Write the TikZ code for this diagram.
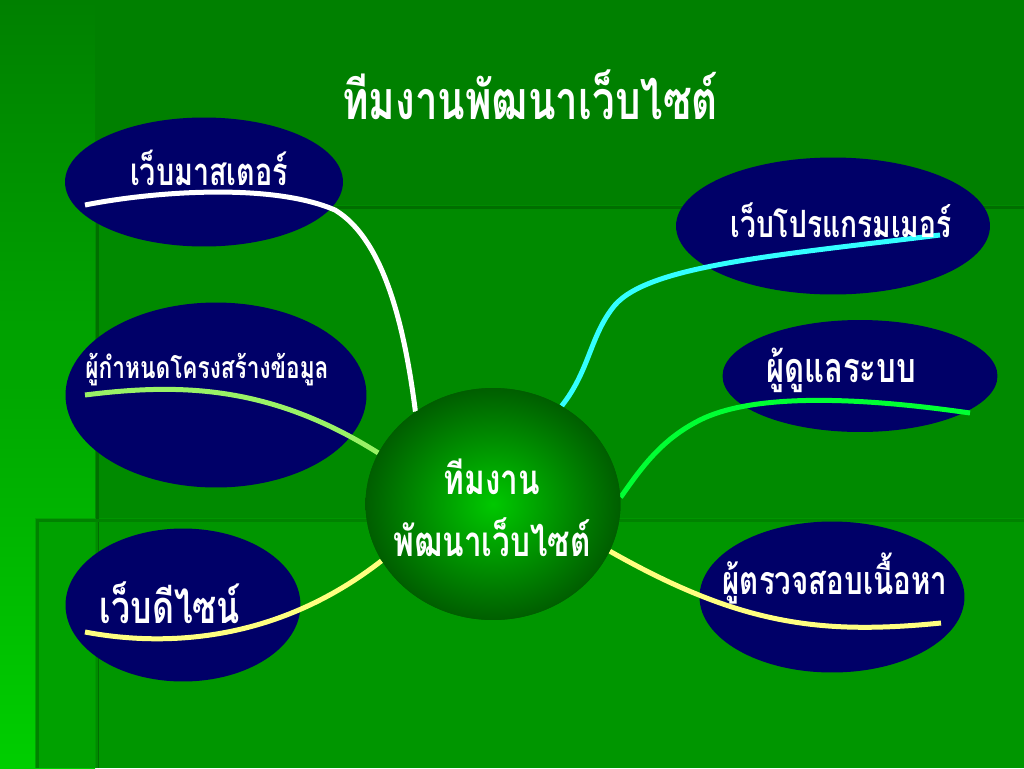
\documentclass[tikz,border=0pt]{standalone}
\usepackage{fontspec}
\newfontfamily\thaifont[Script=Thai, FakeStretch=0.75]{Loma}
\usetikzlibrary{shapes.geometric}

\definecolor{bgtop}{HTML}{008000}
\definecolor{bgleft}{HTML}{00CE00}
\definecolor{bgmid}{HTML}{008A00}
\definecolor{bglow}{HTML}{009600}
\definecolor{bgedge}{HTML}{006E00}
\definecolor{navyblob}{HTML}{000068}
\definecolor{hubin}{HTML}{00C800}
\definecolor{hubout}{HTML}{005E00}
\definecolor{linegreen}{HTML}{99F266}
\definecolor{lineyellow}{HTML}{FFFF80}
\definecolor{linecyan}{HTML}{33FFFF}
\definecolor{linelime}{HTML}{00FF33}

\begin{document}
\begin{tikzpicture}[
  x=0.02cm,
  y=-0.02cm,
  bubble/.style={ellipse, fill=navyblob, inner sep=0pt},
  tlabel/.style={text=white, inner sep=0pt, font=\thaifont\bfseries\fontsize{#1}{#1}\selectfont},
  stroke/.style={line width=1mm}
]
\useasboundingbox (0,0) rectangle (1024,768);

% background panels
\fill[bgtop] (0,0) rectangle (1024,768);
\shade[top color=bgtop, bottom color=bgleft] (0,0) rectangle (95,768);
\fill[bgmid] (95,205) rectangle (1024,768);
\fill[bglow] (35,518) rectangle (1024,768);
\fill[bglow!80!bgleft] (35,518) rectangle (95,768);
\draw[bgedge, line width=0.6mm] (97,768) -- (97,207) -- (1024,207);
\draw[bgtop!90!bglow, line width=0.6mm] (37,768) -- (37,520) -- (1024,520);
\draw[bgmid, line width=0.5mm] (97,522) -- (97,768);

\node[tlabel=30.6] (title) at (530,95) {ทีมงานพัฒนาเว็บไซต์};

\node[bubble, minimum width=5.56cm, minimum height=2.58cm] (master) at (204,182) {};
\node[bubble, minimum width=6.02cm, minimum height=3.7cm] (datadef) at (216,395) {};
\node[bubble, minimum width=4.7cm, minimum height=3.06cm] (design) at (183,605) {};
\node[bubble, minimum width=6.28cm, minimum height=2.74cm] (coder) at (833,226) {};
\node[bubble, minimum width=5.5cm, minimum height=2.24cm] (admin) at (860,376) {};
\node[bubble, minimum width=5.3cm, minimum height=3.02cm] (editor) at (832,597) {};

\coordinate (masterend) at (85,205);
\coordinate (datadefend) at (85,395);
\coordinate (designend) at (85,632);
\coordinate (coderend) at (940,235);
\coordinate (adminend) at (970,413);
\coordinate (editorend) at (941,623);

\node[ellipse, minimum width=5.1cm, minimum height=4.64cm, inner sep=0pt,
  inner color=hubin, outer color=hubout] (hub) at (493,504) {};

\draw[stroke, white] (masterend) .. controls (150,192) and (270,182) .. (335,210)
  .. controls (385,240) and (405,330) .. (hub.130);
\draw[stroke, linegreen] (datadefend) .. controls (180,383) and (270,385) .. (hub.156);
\draw[stroke, lineyellow] (designend) .. controls (170,648) and (280,640) .. (hub.207);
\draw[stroke, linecyan] (coderend) .. controls (780,255) and (650,265) .. (615,305)
  .. controls (590,335) and (590,370) .. (hub.55);
\draw[stroke, linelime] (adminend) .. controls (880,400) and (760,390) .. (700,420)
  .. controls (660,440) and (640,470) .. (hub.3);
\draw[stroke, lineyellow] (editorend) .. controls (820,635) and (740,625) .. (hub.338);

\node[ellipse, minimum width=5.1cm, minimum height=4.64cm, inner sep=0pt,
  inner color=hubin, outer color=hubout] at (hub) {};

\node[tlabel=21.8] (masterlbl) at (209,168) {เว็บมาสเตอร์};
\node[tlabel=17.2] (datadeflbl) at (207,370) {ผู้กำหนดโครงสร้างข้อมูล};
\node[tlabel=25.7] (designlbl) at (170,603) {เว็บดีไซน์};
\node[tlabel=21.4] (coderlbl) at (841,220) {เว็บโปรแกรมเมอร์};
\node[tlabel=23.5] (adminlbl) at (841,370) {ผู้ดูแลระบบ};
\node[tlabel=22.4] (editorlbl) at (835,578) {ผู้ตรวจสอบเนื้อหา};
\node[tlabel=23.9] (hubtop) at (492,477) {ทีมงาน};
\node[tlabel=23.9] (hubbottom) at (492,537) {พัฒนาเว็บไซต์};
\end{tikzpicture}
\end{document}
